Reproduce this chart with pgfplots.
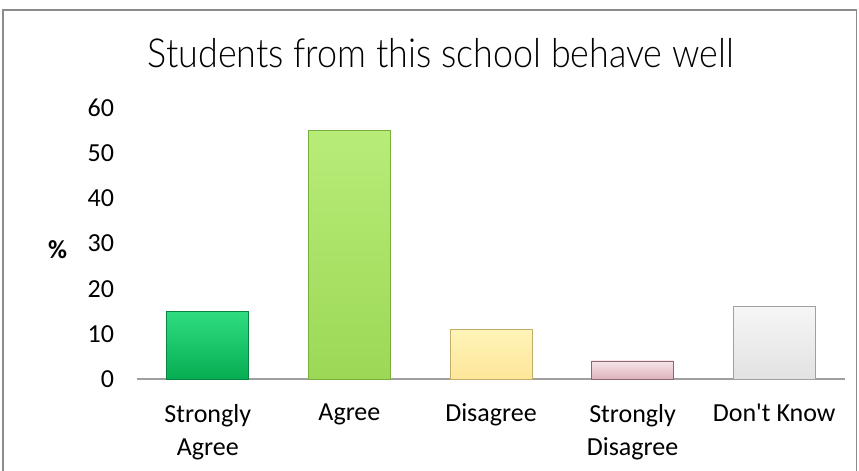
\documentclass[border=0pt]{standalone}
\usepackage{fontspec}
\usepackage{graphicx}
\usepackage{pgfplots}
\pgfplotsset{compat=1.18}
\setmainfont{Carlito}
\newfontfamily\titlefont{Lato Light}

\definecolor{sagreen}{HTML}{06AE52}
\definecolor{sagreenL}{HTML}{30DC80}
\definecolor{sagreenD}{HTML}{0A8440}
\definecolor{agreen}{HTML}{9CD856}
\definecolor{agreenL}{HTML}{B8EC78}
\definecolor{agreenD}{HTML}{78AE3E}
\definecolor{disyel}{HTML}{FDE699}
\definecolor{disyelL}{HTML}{FFF4B8}
\definecolor{disyelD}{HTML}{C2AE6A}
\definecolor{sdpink}{HTML}{DDB2BA}
\definecolor{sdpinkL}{HTML}{F6E6EA}
\definecolor{sdpinkD}{HTML}{8E6670}
\definecolor{dkgrey}{HTML}{E2E2E2}
\definecolor{dkgreyL}{HTML}{F6F6F6}
\definecolor{dkgreyD}{HTML}{A0A0A0}
\definecolor{framegrey}{HTML}{8C8C8C}

\begin{document}
\begin{tikzpicture}[x=1pt,y=1pt]
  % page is 859x471 px, 1px = 0.5pt
  \path[use as bounding box] (0,0) rectangle (429.5,235.5);
  \draw[framegrey, line width=0.6pt] (1.5,-5) -- (1.5,230.5) -- (428.3,230.5) -- (428.3,-5);

  \node[anchor=base] at (220.5,201.5)
    {\resizebox{293pt}{\height}{\titlefont\fontsize{20}{24}\selectfont Students from this school behave well}};

  \begin{axis}[
    at={(68.5pt,46pt)}, anchor=south west,
    scale only axis,
    width=354pt, height=135.5pt,
    xmin=-0.5, xmax=4.5,
    ymin=0, ymax=60,
    ytick={0,10,...,60},
    xtick={0,1,2,3,4},
    xticklabels={{Strongly\\Agree},Agree,Disagree,{Strongly\\Disagree},{Don\textquotesingle t Know}},
    axis lines*=left,
    axis line style={-},
    y axis line style={draw=none},
    x axis line style={draw=gray!75, line width=0.8pt},
    major tick length=0pt,
    tick label style={font=\fontsize{13}{16.5}\selectfont},
    /pgf/number format/assume math mode=true,
    xticklabel style={align=center, yshift=-9pt},
    yticklabel style={xshift=-8pt},
    ylabel={\textbf{\%}},
    every axis y label/.style={at={(axis description cs:-0.112,0.476)}, anchor=center,
      font=\fontsize{13}{16}\selectfont},
    ybar, bar width=0.58, bar shift=0pt,
    clip=false,
  ]
    \addplot[top color=sagreenL, bottom color=sagreen, draw=sagreenD] coordinates {(0,15)};
    \addplot[top color=agreenL, bottom color=agreen, draw=agreenD] coordinates {(1,55)};
    \addplot[top color=disyelL, bottom color=disyel, draw=disyelD] coordinates {(2,11)};
    \addplot[top color=sdpinkL, bottom color=sdpink, draw=sdpinkD] coordinates {(3,4)};
    \addplot[top color=dkgreyL, bottom color=dkgrey, draw=dkgreyD] coordinates {(4,16)};
  \end{axis}
\end{tikzpicture}
\end{document}
